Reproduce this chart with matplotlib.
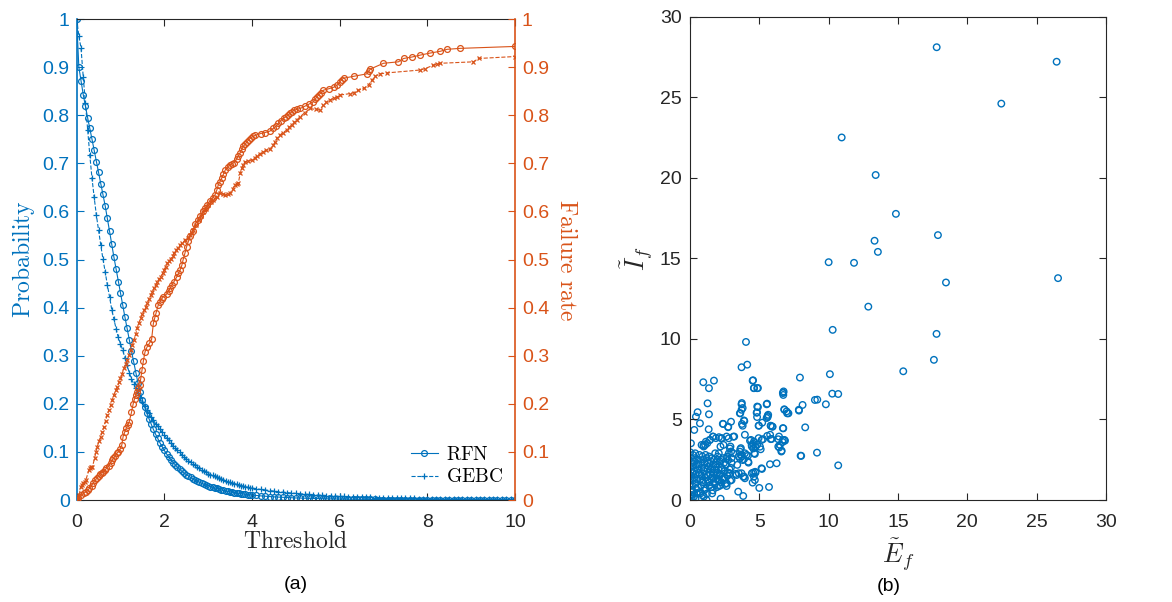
import numpy as np
import matplotlib
matplotlib.use("Agg")
import matplotlib.pyplot as plt
from matplotlib.ticker import FuncFormatter

plt.rcParams['font.family'] = ['Liberation Sans', 'DejaVu Sans']
plt.rcParams['mathtext.fontset'] = 'cm'

BLUE = '#0072BD'
ORANGE = '#D95319'
DARK = '#262626'

# ---- panel (a): probability vs threshold ----
thr = np.round(np.concatenate([np.arange(0, 4.0001, 0.05), np.arange(4.1, 10.0001, 0.1)]), 2)

prob_rfn = [
    1.000, 0.900, 0.871, 0.843, 0.819, 0.795, 0.773, 0.750, 0.727, 0.703,
    0.681, 0.658, 0.636, 0.612, 0.586, 0.559, 0.532, 0.505, 0.480, 0.454,
    0.431, 0.405, 0.381, 0.357, 0.333, 0.310, 0.288, 0.265, 0.243, 0.225,
    0.208, 0.194, 0.181, 0.169, 0.158, 0.147, 0.137, 0.128, 0.119, 0.111,
    0.103, 0.096, 0.090, 0.084, 0.078, 0.073, 0.068, 0.064, 0.060, 0.056,
    0.053, 0.050, 0.047, 0.044, 0.041, 0.039, 0.037, 0.035, 0.033, 0.031,
    0.030, 0.028, 0.027, 0.025, 0.024, 0.023, 0.021, 0.020, 0.019, 0.018,
    0.017, 0.016, 0.0155, 0.0148, 0.014, 0.0133, 0.0126, 0.012, 0.0114, 0.0108,
    0.0103,
    0.0094, 0.0086, 0.0079, 0.0072, 0.0066, 0.0061, 0.0056, 0.0051, 0.0047, 0.0043,
    0.0040, 0.0037, 0.0034, 0.0031, 0.0029, 0.0027, 0.0025, 0.0023, 0.0021, 0.0020,
    0.0018, 0.0017, 0.0016, 0.0015, 0.0014, 0.0013, 0.0012, 0.0011, 0.0010, 0.0010,
    0.0009, 0.0009, 0.0008, 0.0008, 0.0007, 0.0007, 0.0006, 0.0006, 0.0006, 0.0005,
    0.0005, 0.0005, 0.0004, 0.0004, 0.0004, 0.0004, 0.0003, 0.0003, 0.0003, 0.0003,
    0.0003, 0.0002, 0.0002, 0.0002, 0.0002, 0.0002, 0.0002, 0.0001, 0.0001, 0.0001,
]

prob_gebc = [
    1.000, 0.965, 0.939, 0.880, 0.825, 0.769, 0.717, 0.669, 0.629, 0.592,
    0.561, 0.530, 0.501, 0.475, 0.447, 0.423, 0.396, 0.376, 0.356, 0.338,
    0.325, 0.312, 0.296, 0.280, 0.265, 0.252, 0.242, 0.232, 0.222, 0.212,
    0.203, 0.195, 0.187, 0.180, 0.173, 0.166, 0.159, 0.153, 0.147, 0.141,
    0.135, 0.129, 0.124, 0.118, 0.113, 0.108, 0.103, 0.099, 0.094, 0.090,
    0.086, 0.082, 0.079, 0.075, 0.072, 0.069, 0.066, 0.063, 0.060, 0.058,
    0.055, 0.053, 0.051, 0.049, 0.047, 0.045, 0.043, 0.041, 0.040, 0.038,
    0.037, 0.035, 0.034, 0.033, 0.031, 0.030, 0.029, 0.028, 0.027, 0.026,
    0.025,
    0.0235, 0.0220, 0.0208, 0.0196, 0.0185, 0.0174, 0.0164, 0.0155, 0.0146, 0.0138,
    0.0130, 0.0123, 0.0116, 0.0110, 0.0104, 0.0098, 0.0093, 0.0088, 0.0083, 0.0078,
    0.0074, 0.0070, 0.0066, 0.0063, 0.0060, 0.0057, 0.0054, 0.0051, 0.0048, 0.0046,
    0.0044, 0.0042, 0.0040, 0.0038, 0.0036, 0.0034, 0.0032, 0.0031, 0.0029, 0.0028,
    0.0027, 0.0026, 0.0025, 0.0024, 0.0023, 0.0022, 0.0021, 0.0020, 0.0019, 0.0018,
    0.0017, 0.0016, 0.0016, 0.0015, 0.0014, 0.0014, 0.0013, 0.0012, 0.0012, 0.0011,
]

fail_rfn_x = [
    0.0, 0.04, 0.11, 0.16, 0.21, 0.25, 0.29, 0.34, 0.38, 0.42, 0.46, 0.50, 0.53, 0.57,
    0.61, 0.65, 0.68, 0.73, 0.78, 0.81, 0.84, 0.88, 0.91, 0.95, 0.99, 1.03, 1.06, 1.10,
    1.13, 1.17, 1.20, 1.25, 1.29, 1.32, 1.35, 1.38, 1.41, 1.44, 1.46, 1.49, 1.52, 1.56,
    1.61, 1.66, 1.71, 1.75, 1.78, 1.81, 1.86, 1.90, 1.94, 1.98, 2.05, 2.10, 2.13, 2.18,
    2.22, 2.28, 2.32, 2.36, 2.40, 2.43, 2.47, 2.51, 2.55, 2.59, 2.65, 2.70, 2.76, 2.82,
    2.88, 2.93, 2.98, 3.04, 3.10, 3.16, 3.20, 3.23, 3.27, 3.31, 3.35, 3.39, 3.45, 3.50,
    3.54, 3.58, 3.65, 3.69, 3.73, 3.77, 3.80, 3.85, 3.88, 3.93, 3.97, 4.02, 4.07, 4.20,
    4.30, 4.41, 4.49, 4.55, 4.60, 4.66, 4.72, 4.78, 4.83, 4.87, 4.91, 4.95, 5.02, 5.10,
    5.21, 5.30, 5.40, 5.44, 5.48, 5.52, 5.58, 5.63, 5.75, 5.86, 5.95, 6.01, 6.05, 6.09,
    6.32, 6.62, 6.66, 6.70, 7.00, 7.34, 7.46, 7.65, 7.84, 8.05, 8.30, 8.45, 8.75, 10.0,
]
fail_rfn_y = [
    0.0, 0.004, 0.010, 0.014, 0.017, 0.020, 0.024, 0.030, 0.036, 0.041, 0.045, 0.050, 0.055, 0.057,
    0.059, 0.062, 0.066, 0.071, 0.078, 0.083, 0.087, 0.092, 0.097, 0.100, 0.106, 0.114, 0.132, 0.142,
    0.149, 0.156, 0.163, 0.182, 0.200, 0.210, 0.218, 0.225, 0.232, 0.240, 0.251, 0.270, 0.288, 0.308,
    0.319, 0.326, 0.334, 0.367, 0.378, 0.388, 0.405, 0.412, 0.418, 0.423, 0.428, 0.434, 0.440, 0.448,
    0.454, 0.463, 0.471, 0.478, 0.488, 0.500, 0.513, 0.527, 0.538, 0.549, 0.560, 0.573, 0.582, 0.591,
    0.600, 0.607, 0.614, 0.622, 0.628, 0.635, 0.645, 0.655, 0.662, 0.669, 0.678, 0.686, 0.693, 0.697,
    0.699, 0.701, 0.709, 0.716, 0.722, 0.729, 0.735, 0.740, 0.744, 0.749, 0.753, 0.756, 0.758, 0.762,
    0.764, 0.767, 0.773, 0.777, 0.783, 0.789, 0.794, 0.797, 0.801, 0.804, 0.807, 0.810, 0.812, 0.814,
    0.819, 0.823, 0.828, 0.833, 0.838, 0.842, 0.847, 0.852, 0.855, 0.858, 0.863, 0.870, 0.874, 0.877,
    0.881, 0.886, 0.891, 0.896, 0.908, 0.911, 0.918, 0.921, 0.925, 0.929, 0.933, 0.937, 0.939, 0.943,
]

fail_gebc_x = [
    0.0, 0.03, 0.06, 0.09, 0.12, 0.15, 0.18, 0.21, 0.28, 0.30, 0.33, 0.36, 0.41, 0.44,
    0.47, 0.51, 0.55, 0.58, 0.62, 0.66, 0.70, 0.74, 0.78, 0.81, 0.85, 0.89, 0.93, 0.97,
    1.00, 1.04, 1.08, 1.12, 1.16, 1.20, 1.23, 1.27, 1.31, 1.35, 1.38, 1.42, 1.46, 1.50,
    1.54, 1.58, 1.61, 1.65, 1.69, 1.73, 1.76, 1.80, 1.84, 1.88, 1.92, 1.96, 1.99, 2.03,
    2.07, 2.11, 2.15, 2.19, 2.22, 2.27, 2.31, 2.36, 2.41, 2.47, 2.53, 2.59, 2.63, 2.66,
    2.72, 2.78, 2.84, 2.89, 2.95, 3.00, 3.06, 3.12, 3.20, 3.27, 3.33, 3.39, 3.45, 3.50,
    3.56, 3.61, 3.65, 3.69, 3.73, 3.77, 3.80, 3.84, 3.90, 4.00, 4.06, 4.11, 4.18, 4.26,
    4.33, 4.40, 4.49, 4.53, 4.57, 4.64, 4.71, 4.79, 4.85, 4.91, 4.97, 5.02, 5.10, 5.20,
    5.33, 5.45, 5.55, 5.63, 5.70, 5.78, 5.86, 5.94, 6.01, 6.24, 6.32, 6.43, 6.55, 6.66,
    6.74, 6.81, 6.92, 7.08, 7.84, 7.95, 8.14, 8.22, 8.30, 9.05, 9.17, 10.0,
]
fail_gebc_y = [
    0.0, 0.004, 0.010, 0.028, 0.031, 0.035, 0.038, 0.042, 0.062, 0.066, 0.068, 0.069, 0.087, 0.100,
    0.111, 0.122, 0.132, 0.141, 0.152, 0.165, 0.177, 0.188, 0.198, 0.208, 0.218, 0.228, 0.236, 0.245,
    0.253, 0.263, 0.274, 0.283, 0.291, 0.302, 0.312, 0.322, 0.333, 0.345, 0.357, 0.368, 0.378, 0.387,
    0.395, 0.402, 0.409, 0.418, 0.426, 0.433, 0.440, 0.447, 0.454, 0.459, 0.464, 0.471, 0.478, 0.485,
    0.492, 0.497, 0.502, 0.508, 0.513, 0.520, 0.524, 0.530, 0.535, 0.540, 0.545, 0.550, 0.555, 0.561,
    0.572, 0.582, 0.591, 0.599, 0.606, 0.613, 0.619, 0.624, 0.631, 0.638, 0.636, 0.634, 0.636, 0.638,
    0.647, 0.655, 0.657, 0.659, 0.679, 0.690, 0.697, 0.703, 0.705, 0.707, 0.711, 0.715, 0.720, 0.724,
    0.727, 0.729, 0.738, 0.745, 0.752, 0.759, 0.764, 0.769, 0.775, 0.780, 0.785, 0.790, 0.797, 0.805,
    0.814, 0.812, 0.811, 0.821, 0.827, 0.832, 0.835, 0.838, 0.842, 0.845, 0.847, 0.852, 0.856, 0.863,
    0.873, 0.881, 0.886, 0.888, 0.894, 0.897, 0.904, 0.906, 0.908, 0.911, 0.918, 0.922,
]

# ---- panel (b): scatter of E_f vs I_f ----
ef = [
    17.79, 26.44, 22.45, 10.94, 13.39, 14.85, 17.88, 13.31, 13.55, 10.00, 11.83, 18.46, 26.54,
    12.86, 10.29, 17.78, 17.59, 15.38, 4.04, 3.72, 4.13, 0.96, 1.73, 1.37, 4.52, 4.61, 4.85,
    7.93, 10.09, 6.73, 6.73, 10.26, 10.69, 9.01, 9.18, 9.80, 8.12, 7.86, 6.80, 7.01, 7.10,
    1.27, 1.37, 0.55, 0.43, 0.72, 0.31, 0.07, 0.02, 1.35, 3.72, 3.72, 3.60, 3.92, 3.75,
    4.85, 4.81, 5.53, 5.60, 5.53, 5.21, 4.97, 5.83, 5.96, 6.73, 8.31, 2.40, 2.76, 2.96,
    3.12, 2.79, 2.28, 1.68, 1.44, 1.15, 0.84, 0.98, 4.33, 4.45, 4.57, 4.64, 5.05, 5.10,
    5.17, 5.57, 5.89, 6.37, 6.49, 6.68, 6.85, 6.61, 6.44, 9.16, 7.98, 10.69, 5.77, 6.25,
    5.19, 5.00, 5.70, 3.48, 3.84, 2.21, 1.20, 0.00, 4.56, 4.70, 4.52, 4.61, 3.84, 3.72,
    3.36, 4.20, 4.08, 3.60, 3.60, 3.80, 3.12, 2.88, 2.76, 3.00, 2.88, 3.00, 2.64, 2.64,
    2.40, 2.28, 2.04, 2.09, 1.60, 1.00, 0.76, 0.40, 0.16,
    0.99, 1.10, 1.25, 1.65, 1.87, 1.43, 2.09, 2.26, 2.20, 2.42, 2.37, 2.75, 2.92, 2.97,
    3.19, 2.64, 2.68, 3.41, 3.52, 3.63, 3.69, 3.74, 3.96, 4.18, 3.89, 4.22, 3.91, 3.96,
    3.52, 3.30, 4.46, 4.73, 4.68, 5.16, 4.62, 4.55, 4.73, 4.84, 4.68, 4.46, 4.95, 4.40,
    5.27, 5.82, 4.95, 4.84, 4.90, 4.84, 5.60, 5.64, 5.56, 5.82, 5.93, 5.78, 6.37, 6.70,
    6.81, 6.59, 6.42, 6.70, 4.55, 4.62, 4.90, 3.74, 3.80, 3.63, 3.89, 3.80, 3.96, 3.67,
    6.70, 6.75, 6.81, 6.97, 7.85, 8.02,
    0.05, 0.10, 0.15, 0.20, 0.10, 0.05, 0.25, 0.30, 0.35, 0.15, 0.20, 0.30, 0.40, 0.45,
    0.50, 0.55, 0.60, 0.65, 0.70, 0.75, 0.80, 0.85, 0.90, 0.95, 1.00, 1.05, 1.10, 1.15,
    1.20, 1.25, 1.30, 1.35, 1.40, 1.45, 1.50, 1.55, 1.60, 1.65, 1.70, 1.75, 1.80, 1.85,
    1.90, 1.95, 2.00, 2.05, 2.10, 2.15, 2.20, 2.30, 2.35, 2.40, 2.50, 2.55, 2.60, 2.70,
    2.80, 2.85, 2.90, 3.00, 0.00, 0.00, 0.02, 0.08, 0.12, 0.18, 0.22, 0.28, 0.32, 0.38,
    0.42, 0.48, 0.52, 0.58, 0.62, 0.68, 0.72, 0.78, 0.82, 0.88, 0.92, 0.98, 1.02, 1.08,
    1.12, 1.18, 1.22, 1.28, 1.32, 1.38, 1.42, 1.48, 1.52, 1.58, 1.62, 1.68, 1.72, 1.78,
    1.82, 1.88, 1.92, 1.98, 2.08, 2.12, 2.18, 2.25, 2.28, 2.45, 2.48, 2.65, 2.75, 2.95,
]
i_f = [
    28.10, 27.20, 24.60, 22.50, 20.17, 17.76, 16.44, 16.09, 15.40, 14.76, 14.72, 13.50, 13.77,
    12.00, 10.56, 10.31, 8.70, 7.99, 9.81, 8.24, 8.40, 7.31, 7.41, 6.94, 7.41, 6.94, 6.94,
    7.60, 7.81, 6.66, 6.52, 6.60, 6.58, 6.21, 6.23, 5.94, 5.90, 5.55, 5.63, 5.38, 5.38,
    6.00, 5.32, 5.45, 5.17, 4.76, 4.35, 3.52, 2.96, 4.39, 5.94, 5.60, 5.38, 4.90, 4.72,
    5.80, 5.42, 5.94, 5.22, 5.09, 4.80, 4.62, 4.60, 4.55, 4.45, 4.51, 4.72, 4.55, 4.86,
    3.93, 3.83, 3.83, 3.93, 3.73, 3.62, 3.42, 3.40, 3.68, 3.42, 3.20, 2.90, 3.31, 3.15,
    3.73, 3.98, 3.79, 3.77, 3.42, 3.60, 3.68, 3.06, 3.26, 2.94, 2.75, 2.15, 2.22, 2.28,
    1.93, 0.75, 0.81, 0.52, 0.25, 0.08, 0.00, 0.00, 1.70, 1.75, 1.08, 1.45, 1.45, 1.66,
    1.55, 2.38, 2.80, 3.00, 2.59, 2.48, 2.90, 3.20, 2.48, 2.30, 1.66, 1.24, 1.04, 0.87,
    1.35, 1.86, 1.24, 0.87, 0.41, 0.21, 0.41, 0.10, 0.31,
    3.32, 3.42, 3.53, 3.94, 3.84, 3.73, 3.90, 3.84, 3.32, 3.42, 4.73, 4.52, 3.32, 3.01,
    3.94, 3.94, 2.70, 2.18, 2.70, 3.15, 2.80, 2.70, 2.90, 2.74, 2.53, 2.32, 1.45, 1.35,
    1.66, 1.62, 1.66, 1.70, 1.24, 1.97, 3.63, 3.49, 3.32, 3.42, 2.86, 3.32, 3.84, 3.73,
    3.78, 3.78, 4.61, 5.15, 5.77, 5.44, 5.15, 5.29, 5.98, 4.61, 4.56, 4.05, 3.32, 3.73,
    3.73, 3.01, 3.94, 4.46, 7.43, 6.95, 6.95, 6.02, 5.71, 5.39, 4.94, 4.61, 4.05, 3.22,
    6.64, 6.74, 5.60, 5.50, 5.60, 2.74,
    0.30, 0.60, 0.90, 1.20, 1.50, 1.80, 2.10, 2.40, 2.60, 2.30, 1.70, 1.40, 1.00, 0.70,
    0.40, 1.90, 2.20, 2.50, 1.60, 1.30, 0.90, 2.00, 2.70, 1.10, 1.80, 2.30, 1.40, 0.70,
    2.60, 1.90, 1.20, 2.10, 0.90, 1.60, 2.40, 1.30, 2.00, 0.60, 1.70, 2.50, 1.00, 2.20,
    1.50, 0.80, 2.70, 1.90, 1.20, 2.40, 1.60, 2.00, 1.30, 2.60, 1.80, 1.00, 2.20, 1.50,
    2.90, 1.90, 1.20, 2.60, 1.00, 2.00, 1.30, 2.60, 0.10, 0.50, 2.80, 0.20, 1.80, 2.90,
    1.60, 2.20, 1.30, 0.80, 1.70, 2.80, 0.50, 2.30, 1.50, 1.20, 0.30, 2.50, 0.60, 2.00,
    2.80, 1.60, 0.40, 2.30, 1.50, 2.70, 1.10, 1.90, 0.80, 2.60, 1.40, 2.20, 1.10, 1.90,
    2.90, 1.30, 2.40, 1.70, 2.90, 1.50, 0.90, 2.50, 1.10, 2.30, 1.40, 2.60, 1.70, 2.00,
]

fmt = FuncFormatter(lambda v, p: '%g' % round(v, 2))

fig = plt.figure(figsize=(11.72, 6.02), dpi=100)

# left panel
ax = fig.add_axes([0.0654, 0.1694, 0.374, 0.799])
ax2 = ax.twinx()

l1, = ax.plot(thr, prob_rfn, '-o', color=BLUE, lw=0.8, ms=4.2, mfc='none', mew=0.9, label=r'$\mathrm{RFN}$')
l2, = ax.plot(thr, prob_gebc, '--+', color=BLUE, lw=0.8, ms=5, mew=0.9, label=r'$\mathrm{GEBC}$')
ax2.plot(fail_rfn_x, fail_rfn_y, '-o', color=ORANGE, lw=0.8, ms=4.2, mfc='none', mew=0.9)
ax2.plot(fail_gebc_x, fail_gebc_y, '--x', color=ORANGE, lw=0.8, ms=3.5, mew=0.9)

ax.set_xlim(0, 10)
ax.set_ylim(0, 1)
ax2.set_ylim(0, 1)
ax.set_xticks(np.arange(0, 11, 2))
ax.set_yticks(np.arange(0, 1.01, 0.1))
ax2.set_yticks(np.arange(0, 1.01, 0.1))
ax.yaxis.set_major_formatter(fmt)
ax2.yaxis.set_major_formatter(fmt)

ax.tick_params(axis='x', direction='in', top=True, length=5, width=0.8, colors=DARK, labelsize=14, pad=10)
ax.tick_params(axis='y', direction='in', length=5, width=0.8, colors=BLUE, labelsize=14, pad=5)
ax2.tick_params(axis='y', direction='in', length=5, width=0.8, colors=ORANGE, labelsize=14, pad=5)
ax.spines['left'].set_color(BLUE)
ax.spines['left'].set_linewidth(1.2)
ax.spines['right'].set_visible(False)
ax.spines['top'].set_color(DARK)
ax.spines['bottom'].set_color(DARK)
for s in ['left', 'top', 'bottom']:
    ax2.spines[s].set_visible(False)
ax2.spines['right'].set_color(ORANGE)
ax2.spines['right'].set_linewidth(1.2)

ax.set_xlabel(r'$\mathrm{Threshold}$', fontsize=17, color=DARK, labelpad=0)
ax.set_ylabel(r'$\mathrm{Probability}$', fontsize=17, color=BLUE, labelpad=4)
ax2.set_ylabel(r'$\mathrm{Failure\ rate}$', fontsize=17, color=ORANGE, rotation=-90, labelpad=20)

leg = ax2.legend(handles=[l1, l2], loc='lower right', bbox_to_anchor=(1.003, 0.0), frameon=False,
                 fontsize=14, handlelength=1.4, handletextpad=0.4, labelspacing=0.25, borderaxespad=0.3)

# right panel
bx = fig.add_axes([0.5887, 0.1694, 0.355, 0.803])
bx.scatter(ef, i_f, s=22, facecolors='none', edgecolors=BLUE, linewidths=1.0)
bx.set_xlim(0, 30)
bx.set_ylim(0, 30)
bx.set_xticks(np.arange(0, 31, 5))
bx.set_yticks(np.arange(0, 31, 5))
bx.tick_params(direction='in', top=True, right=True, length=5, width=0.8, colors=DARK, labelsize=14)
bx.tick_params(axis='x', pad=10)
bx.tick_params(axis='y', pad=6)
for s in bx.spines.values():
    s.set_color(DARK)
bx.set_xlabel(r'$\tilde{E}_f$', fontsize=19, color=DARK, labelpad=4)
bx.set_ylabel(r'$\tilde{I}_f$', fontsize=19, color=DARK, labelpad=3)

fig.text(0.2526, 0.022, '(a)', fontsize=14, ha='center', color='black')
fig.text(0.7585, 0.018, '(b)', fontsize=14, ha='center', color='black')

fig.savefig('out.png', dpi=100)
